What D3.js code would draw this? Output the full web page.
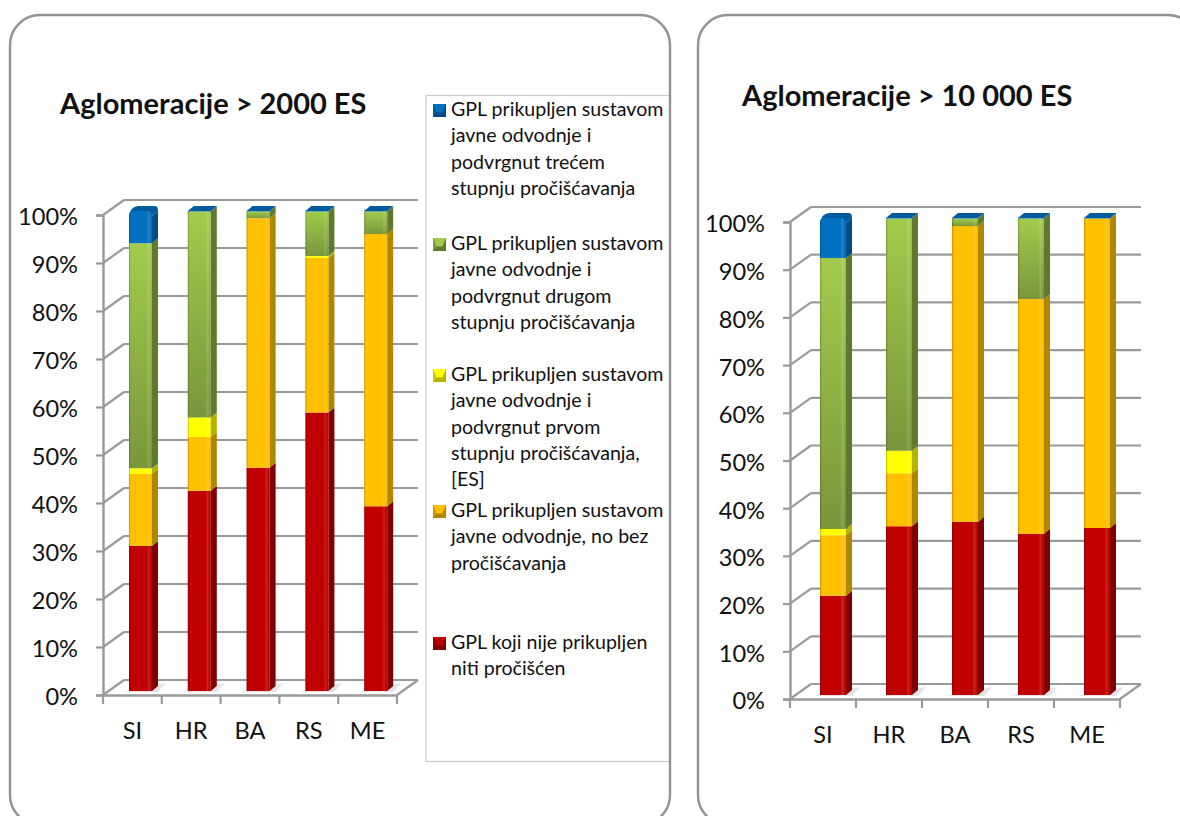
<!DOCTYPE html>
<html><head><meta charset="utf-8">
<script src="https://cdn.jsdelivr.net/npm/d3@7/dist/d3.min.js"></script>
<style>html,body{margin:0;padding:0;background:#fff;overflow:hidden}svg{display:block}text{font-family:Lato,"Open Sans",sans-serif;fill:#111}</style>
</head><body><svg id="c" width="1180" height="816"></svg>
<script>
const categories = ["SI","HR","BA","RS","ME"];
const seriesKeys = ["red","orange","yellow","green","blue"];
const yTicks = [0,10,20,30,40,50,60,70,80,90,100];

const leftTitle = "Aglomeracije > 2000 ES";
const leftRed    = [30.2,41.7,46.5,58.0,38.5];
const leftOrange = [15.0,11.2,52.0,32.2,56.7];
const leftYellow = [1.2,4.1,0,0.4,0];
const leftGreen  = [46.9,42.9,1.4,9.3,4.7];
const leftBlue   = [6.7,0.1,0.1,0.1,0.1];

const rightTitle = "Aglomeracije > 10 000 ES";
const rightRed    = [20.8,35.4,36.3,33.8,35.0];
const rightOrange = [12.7,11.1,62.0,49.2,64.9];
const rightYellow = [1.3,4.7,0,0,0];
const rightGreen  = [56.8,48.7,1.6,16.9,0];
const rightBlue   = [8.4,0.1,0.1,0.1,0.1];

const legendBlue   = ["GPL prikupljen sustavom","javne odvodnje i","podvrgnut trećem","stupnju pročišćavanja"];
const legendGreen  = ["GPL prikupljen sustavom","javne odvodnje i","podvrgnut drugom","stupnju pročišćavanja"];
const legendYellow = ["GPL prikupljen sustavom","javne odvodnje i","podvrgnut prvom","stupnju pročišćavanja,","[ES]"];
const legendOrange = ["GPL prikupljen sustavom","javne odvodnje, no bez","pročišćavanja"];
const legendRed    = ["GPL koji nije prikupljen","niti pročišćen"];

const palette = {
  red:{a:"#c00000",b:"#c00000",side:"#800000",top:"#9a0000"},
  orange:{a:"#ffc000",b:"#ffc000",side:"#b08500",top:"#cc9a00"},
  yellow:{a:"#ffff00",b:"#ffff00",side:"#b3b300",top:"#cccc00"},
  green:{a:"#a2cb4c",b:"#7a963c",side:"#5f7a2e",top:"#7f9f3a"},
  blue:{a:"#0070c0",b:"#0070c0",side:"#004a86",top:"#005a9e"}
};

const svg = d3.select("#c");
const defs = svg.append("defs");
seriesKeys.forEach(k=>{
  const p = palette[k];
  const v = defs.append("linearGradient").attr("id","f-"+k).attr("x1",0).attr("x2",0).attr("y1",0).attr("y2",1);
  v.append("stop").attr("offset",0).attr("stop-color",p.a);
  v.append("stop").attr("offset",1).attr("stop-color",p.b);
});
const edge = defs.append("linearGradient").attr("id","edge");
[[0,"#000",.25],[.07,"#000",0],[.78,"#fff",0],[.86,"#fff",.14],[.95,"#fff",0],[1,"#000",.1]].forEach(s=>
  edge.append("stop").attr("offset",s[0]).attr("stop-color",s[1]).attr("stop-opacity",s[2]));

const panelLayer = svg.append("g");
function panel(x,y,w,h){
  svg.append("rect").attr("x",x).attr("y",y).attr("width",w).attr("height",h).attr("rx",30)
    .attr("fill","none").attr("stroke","#929292").attr("stroke-width",2.4);
}

function chart(o){
  const g = svg.append("g");
  const gridCol = "#9a9a9a", dx = 21, dy = -15;
  const x = d3.scaleBand().domain(categories).range([o.x0,o.x1]);
  const y = d3.scaleLinear().domain([0,100]).range([o.y0,o.y1]);
  const fmt = d=>d+"%";

  yTicks.forEach(t=>{
    const yy = y(t);
    g.append("line").attr("x1",o.x0+dx).attr("x2",o.x1+dx).attr("y1",yy+dy).attr("y2",yy+dy)
      .attr("stroke",gridCol).attr("stroke-width",2.2);
    g.append("line").attr("x1",o.x0).attr("x2",o.x0+dx).attr("y1",yy).attr("y2",yy+dy)
      .attr("stroke",gridCol).attr("stroke-width",2.2);
  });
  g.append("line").attr("x1",o.x1).attr("x2",o.x1+dx).attr("y1",o.y0).attr("y2",o.y0+dy)
    .attr("stroke",gridCol).attr("stroke-width",2.2);

  const ax = g.append("g").attr("transform",`translate(${o.x0},0)`)
    .call(d3.axisLeft(y).tickValues(yTicks).tickFormat(fmt).tickSize(7).tickPadding(18));
  const bx = g.append("g").attr("transform",`translate(0,${o.y0})`)
    .call(d3.axisBottom(x).tickSize(0).tickPadding(27));
  [ax,bx].forEach(s=>{
    s.selectAll(".domain").attr("stroke",gridCol).attr("stroke-width",2.4);
    s.selectAll(".tick line").attr("stroke",gridCol).attr("stroke-width",2.2);
    s.selectAll("text").attr("font-size",23.6).style("font-family","Lato").attr("fill","#111");
  });
  ax.selectAll("text").attr("dy","0.42em");
  bx.selectAll("text").attr("dy","0.71em");
  g.selectAll(".xt").data(d3.range(categories.length+1)).join("line")
    .attr("x1",i=>o.x0+i*x.step()).attr("x2",i=>o.x0+i*x.step())
    .attr("y1",o.y0).attr("y2",o.y0+9).attr("stroke",gridCol).attr("stroke-width",2.2);

  const rows = categories.map((c,i)=>({cat:c,red:o.red[i],orange:o.orange[i],yellow:o.yellow[i],green:o.green[i],blue:o.blue[i]}));
  const stacked = d3.stack().keys(seriesKeys)(rows);
  const lift = 4, bw = o.bw, sd = 6, sr = 5;
  const bars = g.append("g");

  rows.forEach((r,i)=>{
    const left = x(r.cat)+o.barOff;
    const fy = v=>y(v)-lift;
    bars.append("path").attr("d",`M${left-6},${fy(0)+1}L${left+bw+14},${fy(0)-8}L${left+bw+6},${fy(0)+1}Z`)
      .attr("fill","#d8d8d8").attr("opacity",.7);
    stacked.forEach(s=>{
      const k = s.key, v0 = s[i][0], v1 = s[i][1];
      if(v1-v0<=0) return;
      const p = palette[k], t = fy(v1), b = fy(v0);
      const rounded = k==="blue" && v1-v0>1;
      const rr = rounded?5:0;
      bars.append("path").attr("d",`M${left+bw},${b}L${left+bw+sd},${b-sr}L${left+bw+sd},${t-sr+rr}L${left+bw},${t+rr}Z`).attr("fill",p.side);
      if(k==="blue"){
        const d = rounded
          ? `M${left},${t+rr}Q${left+1},${t-sr+1} ${left+sd+3},${t-sr}L${left+bw+sd-3},${t-sr}Q${left+bw+sd},${t-sr} ${left+bw+sd},${t-sr+rr}L${left+bw},${t+rr}Z`
          : `M${left},${t}L${left+sd},${t-sr}L${left+bw+sd},${t-sr}L${left+bw},${t}Z`;
        bars.append("path").attr("d",d).attr("fill",p.top);
      }
      const front = rounded
        ? `M${left},${b}L${left},${t+rr}Q${left},${t} ${left+rr},${t}L${left+bw-rr},${t}Q${left+bw},${t} ${left+bw},${t+rr}L${left+bw},${b}Z`
        : `M${left},${b}L${left},${t}L${left+bw},${t}L${left+bw},${b}Z`;
      bars.append("path").attr("d",front).attr("fill",`url(#f-${k})`);
      bars.append("path").attr("d",front).attr("fill","url(#edge)");
    });
  });

  g.append("text").attr("x",o.titleX).attr("y",o.titleY).attr("font-size",29).attr("font-weight",700).text(o.title);
}

chart({x0:103,x1:397,y0:695,y1:215,bw:23,barOff:26,red:leftRed,orange:leftOrange,yellow:leftYellow,green:leftGreen,blue:leftBlue,title:leftTitle,titleX:60,titleY:114});
chart({x0:790,x1:1120,y0:699,y1:222,bw:26,barOff:30,red:rightRed,orange:rightOrange,yellow:rightYellow,green:rightGreen,blue:rightBlue,title:rightTitle,titleX:742,titleY:106});

const lg = svg.append("g");
lg.append("rect").attr("x",426).attr("y",95.5).attr("width",244).attr("height",666).attr("fill","#fff").attr("stroke","#c8c8c8").attr("stroke-width",1.2);
const legendEntries = [
  {k:"blue",lines:legendBlue,y:116},
  {k:"green",lines:legendGreen,y:250},
  {k:"yellow",lines:legendYellow,y:381},
  {k:"orange",lines:legendOrange,y:517},
  {k:"red",lines:legendRed,y:649}
];
legendEntries.forEach(e=>{
  const p = palette[e.k], sx=433, sy=e.y-12, s=13;
  lg.append("rect").attr("x",sx).attr("y",sy).attr("width",s).attr("height",s).attr("fill",p.side);
  lg.append("path").attr("d",`M${sx},${sy}L${sx+s},${sy}L${sx+s/2+3},${sy+s/2+2}L${sx+s/2-3},${sy+s/2+2}Z`).attr("fill",p.a);
  lg.append("path").attr("d",`M${sx},${sy}L${sx+s/2-3},${sy+s/2+2}L${sx},${sy+s}Z`).attr("fill",p.top);
  e.lines.forEach((t,i)=>lg.append("text").attr("x",451).attr("y",e.y+i*26.3).attr("font-size",19.6).text(t));
});

panel(10,15,660,810);
panel(698,15,500,810);
</script></body></html>
